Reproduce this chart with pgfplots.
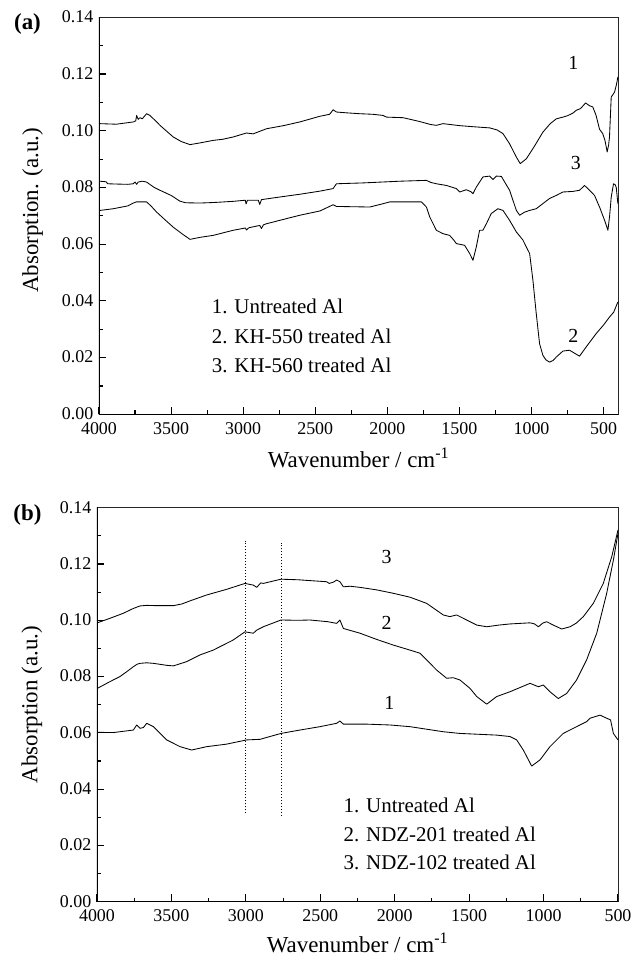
\documentclass[border=0pt]{standalone}
\usepackage{pgfplots}
\pgfplotsset{compat=1.18}
\usepackage{fontspec}
\setmainfont{Liberation Serif}
\pgfplotsset{
  spec/.style={black, mark=none, line width=0.85bp, line join=round},
  ftir/.style={
    scale only axis,
    x dir=reverse,
    ymin=0, ymax=0.14,
    xtick={500,1000,...,4000},
    ytick={0,0.02,...,0.14},
    minor x tick num=1,
    minor y tick num=1,
    tick align=inside,
    xtick pos=bottom, ytick pos=left,
    major tick length=7.5bp,
    minor tick length=4bp,
    every tick/.style={line width=1.1bp, black},
    axis line style={line width=0.7bp, black!85},
    tick label style={font=\fontsize{18}{20}\selectfont},
    /pgf/number format/assume math mode=true,
    xticklabel style={/tikz/yshift=-7.5bp, /tikz/inner sep=0.5pt, /pgf/number format/1000 sep={}},
    yticklabel style={/tikz/inner sep=0.5pt, /tikz/xshift=-5bp, /tikz/yshift=0.5bp, /pgf/number format/fixed, /pgf/number format/fixed zerofill, /pgf/number format/precision=2},
    label style={font=\fontsize{23}{26}\selectfont},
  }
}
\begin{document}
\begin{tikzpicture}[x=1bp,y=1bp]
\path[use as bounding box] (0,0) rectangle (632,-956);
\node[font=\fontsize{23}{25}\selectfont\bfseries] at (27.5,-24) {(a)};
\node[font=\fontsize{23}{25}\selectfont\bfseries] at (27.5,-515) {(b)};
% ---------------- panel (a) ----------------
\begin{axis}[ftir,
  at={(99bp,-414.3bp)}, anchor=south west,
  width=519bp, height=397bp,
  xmin=400, xmax=4000,
  xlabel={Wavenumber / cm\textsuperscript{-1}},
  ylabel={Absorption. (a.u.)},
  xlabel style={at={(axis description cs:0.5,0)}, anchor=base, yshift=-53.5bp},
  ylabel style={at={(axis description cs:-0.128,0.514)}, anchor=center},
]
% curve 1: untreated Al
\addplot[spec] coordinates {(3995,0.1025)(3880,0.1023)(3762,0.1031)(3745,0.1035)(3739,0.1054)(3728,0.1040)(3716,0.1046)(3700,0.1042)(3670,0.1060)(3647,0.1054)(3610,0.1036)(3577,0.1019)(3530,0.0998)(3485,0.0978)(3430,0.0962)(3369,0.0951)(3300,0.0957)(3208,0.0966)(3140,0.0970)(3069,0.0978)(2977,0.0992)(2931,0.0989)(2838,0.1007)(2720,0.1018)(2607,0.1031)(2468,0.1051)(2400,0.1058)(2376,0.1074)(2353,0.1066)(2280,0.1063)(2191,0.1060)(2100,0.1058)(2030,0.1054)(2006,0.1048)(1891,0.1046)(1780,0.1033)(1700,0.1022)(1660,0.1019)(1614,0.1025)(1500,0.1018)(1400,0.1014)(1290,0.1010)(1240,0.1003)(1198,0.0990)(1152,0.0954)(1105,0.0907)(1078,0.0884)(1036,0.0901)(980,0.0945)(921,0.0995)(870,0.1025)(828,0.1042)(782,0.1048)(750,0.1053)(713,0.1062)(690,0.1072)(660,0.1078)(625,0.1098)(597,0.1088)(575,0.1084)(552,0.1054)(528,0.1005)(506,0.0990)(490,0.0965)(475,0.0925)(465,0.0950)(459,0.0978)(447,0.1119)(424,0.1136)(412,0.1160)(405,0.1178)(401,0.1190)};
% curve 3: KH-560
\addplot[spec] coordinates {(3995,0.0822)(3950,0.0820)(3940,0.0813)(3880,0.0812)(3800,0.0811)(3762,0.0813)(3750,0.0819)(3739,0.0811)(3728,0.0819)(3700,0.0822)(3670,0.0819)(3620,0.0801)(3577,0.0790)(3500,0.0772)(3440,0.0752)(3400,0.0746)(3300,0.0745)(3200,0.0747)(3069,0.0751)(2985,0.0755)(2980,0.0742)(2970,0.0755)(2895,0.0755)(2885,0.0740)(2873,0.0757)(2750,0.0766)(2607,0.0776)(2468,0.0787)(2376,0.0796)(2353,0.0813)(2168,0.0816)(1914,0.0822)(1729,0.0825)(1700,0.0818)(1660,0.0813)(1590,0.0807)(1521,0.0796)(1498,0.0784)(1452,0.0792)(1420,0.0785)(1406,0.0778)(1383,0.0801)(1337,0.0837)(1290,0.0840)(1267,0.0828)(1244,0.0840)(1209,0.0839)(1186,0.0819)(1152,0.0790)(1105,0.0719)(1082,0.0702)(1048,0.0713)(1013,0.0719)(967,0.0725)(921,0.0743)(875,0.0761)(828,0.0772)(782,0.0784)(713,0.0786)(667,0.0790)(632,0.0807)(597,0.0790)(563,0.0772)(528,0.0731)(493,0.0684)(470,0.0649)(458,0.0700)(447,0.0766)(431,0.0813)(420,0.0810)(412,0.0800)(401,0.0743)};
% curve 2: KH-550
\addplot[spec] coordinates {(3993,0.0719)(3900,0.0725)(3800,0.0735)(3762,0.0745)(3740,0.0749)(3700,0.0749)(3670,0.0749)(3640,0.0735)(3600,0.0713)(3540,0.0685)(3485,0.0660)(3420,0.0635)(3369,0.0617)(3300,0.0624)(3208,0.0631)(3069,0.0649)(2985,0.0657)(2977,0.0650)(2960,0.0658)(2885,0.0666)(2873,0.0655)(2860,0.0668)(2838,0.0672)(2700,0.0690)(2607,0.0702)(2468,0.0717)(2376,0.0739)(2353,0.0733)(2122,0.0731)(2050,0.0740)(1983,0.0749)(1764,0.0749)(1729,0.0731)(1706,0.0696)(1660,0.0649)(1614,0.0637)(1568,0.0631)(1540,0.0615)(1521,0.0602)(1464,0.0596)(1429,0.0567)(1406,0.0543)(1383,0.0590)(1360,0.0649)(1337,0.0649)(1313,0.0672)(1279,0.0708)(1233,0.0725)(1198,0.0719)(1152,0.0684)(1105,0.0643)(1060,0.0615)(1036,0.0590)(1013,0.0567)(990,0.0472)(967,0.0355)(944,0.0249)(921,0.0208)(900,0.0192)(875,0.0184)(850,0.0190)(828,0.0202)(782,0.0223)(736,0.0226)(690,0.0212)(667,0.0205)(610,0.0245)(551,0.0285)(500,0.0315)(459,0.0343)(430,0.0360)(401,0.0396)};
\node[font=\fontsize{20}{22}\selectfont] at (axis cs:710,0.1238) {1};
\node[font=\fontsize{20}{22}\selectfont] at (axis cs:693,0.0885) {3};
\node[font=\fontsize{20}{22}\selectfont] at (axis cs:710,0.0276) {2};
\node[font=\fontsize{21}{23}\selectfont, anchor=base west, inner sep=0pt] at (axis cs:3219,0.0355) {1. Untreated Al};
\node[font=\fontsize{21}{23}\selectfont, anchor=base west, inner sep=0pt] at (axis cs:3219,0.0251) {2. KH-550 treated Al};
\node[font=\fontsize{21}{23}\selectfont, anchor=base west, inner sep=0pt] at (axis cs:3219,0.0149) {3. KH-560 treated Al};
\draw[line width=1.6bp, line cap=rect, black] (axis description cs:0,1) -- (axis description cs:0,0) -- (axis description cs:1,0);
\end{axis}
% ---------------- panel (b) ----------------
\begin{axis}[ftir,
  at={(97bp,-901.7bp)}, anchor=south west,
  width=521bp, height=394bp,
  xmin=500, xmax=4000,
  xlabel={Wavenumber / cm\textsuperscript{-1}},
  ylabel={Absorption (a.u.)},
  xlabel style={at={(axis description cs:0.5,0)}, anchor=base, yshift=-50.3bp},
  ylabel style={at={(axis description cs:-0.125,0.5)}, anchor=center},
]
% curve 3: NDZ-102
\addplot[spec] coordinates {(3998,0.0991)(3913,0.1007)(3823,0.1025)(3756,0.1042)(3711,0.1051)(3666,0.1053)(3600,0.1052)(3487,0.1052)(3430,0.1058)(3375,0.1069)(3263,0.1090)(3129,0.1110)(3006,0.1131)(2950,0.1125)(2927,0.1117)(2900,0.1133)(2883,0.1131)(2764,0.1146)(2650,0.1144)(2569,0.1141)(2457,0.1137)(2440,0.1131)(2410,0.1136)(2390,0.1143)(2368,0.1137)(2345,0.1119)(2300,0.1121)(2233,0.1117)(2121,0.1108)(2010,0.1096)(1897,0.1082)(1785,0.1060)(1674,0.1019)(1629,0.1013)(1584,0.1019)(1539,0.1007)(1449,0.0983)(1382,0.0977)(1300,0.0983)(1226,0.0987)(1091,0.0991)(1060,0.0987)(1035,0.0977)(1005,0.0990)(979,0.0995)(935,0.0983)(878,0.0969)(822,0.0977)(780,0.0990)(733,0.1013)(666,0.1060)(599,0.1131)(542,0.1226)(500,0.1321)};
% curve 2: NDZ-201
\addplot[spec] coordinates {(3998,0.0758)(3913,0.0782)(3846,0.0800)(3801,0.0817)(3756,0.0835)(3730,0.0844)(3711,0.0847)(3666,0.0849)(3621,0.0847)(3532,0.0840)(3487,0.0838)(3398,0.0853)(3308,0.0877)(3219,0.0894)(3085,0.0930)(3006,0.0959)(2950,0.0954)(2927,0.0965)(2883,0.0977)(2764,0.1001)(2650,0.1000)(2569,0.1001)(2450,0.0995)(2390,0.0989)(2368,0.1001)(2345,0.0971)(2233,0.0954)(2121,0.0932)(2010,0.0912)(1897,0.0894)(1830,0.0883)(1785,0.0859)(1718,0.0823)(1651,0.0794)(1607,0.0796)(1562,0.0788)(1494,0.0758)(1449,0.0729)(1382,0.0702)(1315,0.0729)(1226,0.0746)(1091,0.0776)(1035,0.0764)(1002,0.0770)(957,0.0746)(901,0.0722)(845,0.0740)(778,0.0788)(711,0.0859)(643,0.0954)(576,0.1096)(531,0.1214)(500,0.1309)};
% curve 1: untreated Al
\addplot[spec] coordinates {(3998,0.0602)(3891,0.0601)(3801,0.0607)(3756,0.0610)(3733,0.0628)(3711,0.0616)(3688,0.0619)(3666,0.0634)(3621,0.0622)(3532,0.0575)(3442,0.0551)(3364,0.0539)(3263,0.0551)(3129,0.0560)(2994,0.0575)(2905,0.0577)(2764,0.0598)(2637,0.0610)(2502,0.0622)(2390,0.0634)(2368,0.0642)(2345,0.0631)(2189,0.0631)(2032,0.0628)(1897,0.0622)(1674,0.0604)(1562,0.0598)(1315,0.0592)(1226,0.0587)(1181,0.0575)(1136,0.0539)(1080,0.0482)(1024,0.0504)(957,0.0551)(868,0.0598)(778,0.0622)(711,0.0640)(688,0.0652)(621,0.0663)(576,0.0652)(550,0.0646)(531,0.0598)(500,0.0575)};
% dotted markers
\addplot[black, dotted, line width=1bp] coordinates {(3000,0.0314)(3000,0.1282)};
\addplot[black, dotted, line width=1bp] coordinates {(2760,0.0306)(2760,0.1276)};
\node[font=\fontsize{20}{22}\selectfont] at (axis cs:2054,0.1224) {3};
\node[font=\fontsize{20}{22}\selectfont] at (axis cs:2054,0.0991) {2};
\node[font=\fontsize{20}{22}\selectfont] at (axis cs:2036,0.0705) {1};
\node[font=\fontsize{21}{23}\selectfont, anchor=base west, inner sep=0pt] at (axis cs:2345,0.0316) {1. Untreated Al};
\node[font=\fontsize{21}{23}\selectfont, anchor=base west, inner sep=0pt] at (axis cs:2345,0.0213) {2. NDZ-201 treated Al};
\node[font=\fontsize{21}{23}\selectfont, anchor=base west, inner sep=0pt] at (axis cs:2345,0.0113) {3. NDZ-102 treated Al};
\draw[line width=1.6bp, line cap=rect, black] (axis description cs:0,1) -- (axis description cs:0,0) -- (axis description cs:1,0);
\end{axis}
\end{tikzpicture}
\end{document}
